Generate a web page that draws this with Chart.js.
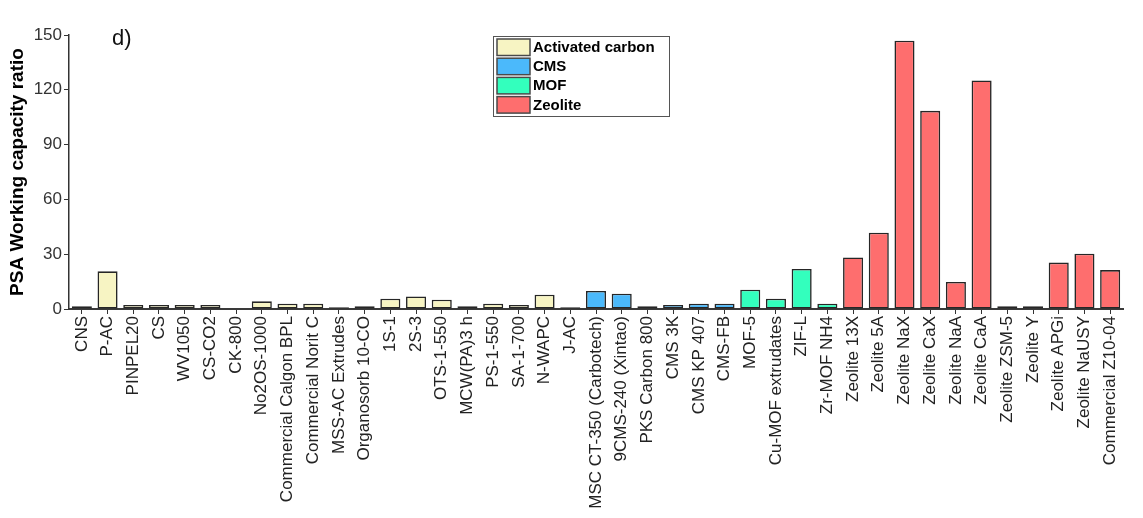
<!DOCTYPE html>
<html>
<head>
<meta charset="utf-8">
<script src="https://cdn.jsdelivr.net/npm/chart.js@4.4.1/dist/chart.umd.min.js"></script>
<style>
  html, body { margin: 0; padding: 0; background: #ffffff; }
  canvas { display: block; }
</style>
</head>
<body>
<canvas id="chart" width="1143" height="518"></canvas>
<script>
// Adsorbent names along the x axis
const categories = [
  'CNS', 'P-AC', 'PINPEL20', 'CS', 'WV1050', 'CS-CO2', 'CK-800', 'No2OS-1000',
  'Commercial Calgon BPL', 'Commercial Norit C', 'MSS-AC Extrudes', 'Organosorb 10-CO',
  '1S-1', '2S-3', 'OTS-1-550', 'MCW(PA)3 h', 'PS-1-550', 'SA-1-700', 'N-WAPC', 'J-AC',
  'MSC CT-350 (Carbotech)', '9CMS-240 (Xintao)', 'PKS Carbon 800', 'CMS 3K', 'CMS KP 407', 'CMS-FB',
  'MOF-5', 'Cu-MOF extrudates', 'ZIF-L', 'Zr-MOF NH4',
  'Zeolite 13X', 'Zeolite 5A', 'Zeolite NaX', 'Zeolite CaX', 'Zeolite NaA', 'Zeolite CaA',
  'Zeolite ZSM-5', 'Zeolite Y', 'Zeolite APGi', 'Zeolite NaUSY', 'Commercial Z10-04'
];

// PSA working capacity ratio per adsorbent
const workingCapacityRatio = [
  1.5, 20.6, 2.2, 2.2, 2.2, 2.2, 0, 4.2,
  2.9, 2.9, 0.9, 1.5,
  5.6, 6.9, 5.1, 1.5, 2.9, 2.2, 7.8, 0.9,
  9.9, 8.4, 1.5, 2.2, 2.9, 2.9,
  10.6, 5.6, 21.9, 2.9,
  28.2, 41.8, 146.9, 108.5, 14.8, 125.1,
  1.5, 1.5, 25.4, 30.3, 21.3
];

// Adsorbent family of each bar
const families = [
  'Activated carbon', 'Activated carbon', 'Activated carbon', 'Activated carbon', 'Activated carbon',
  'Activated carbon', 'Activated carbon', 'Activated carbon', 'Activated carbon', 'Activated carbon',
  'Activated carbon', 'Activated carbon', 'Activated carbon', 'Activated carbon', 'Activated carbon',
  'Activated carbon', 'Activated carbon', 'Activated carbon', 'Activated carbon', 'Activated carbon',
  'CMS', 'CMS', 'CMS', 'CMS', 'CMS', 'CMS',
  'MOF', 'MOF', 'MOF', 'MOF',
  'Zeolite', 'Zeolite', 'Zeolite', 'Zeolite', 'Zeolite', 'Zeolite',
  'Zeolite', 'Zeolite', 'Zeolite', 'Zeolite', 'Zeolite'
];

// Legend entries, in drawing order
const familyNames = ['Activated carbon', 'CMS', 'MOF', 'Zeolite'];

// Value axis ticks
const yTickValues = [0, 30, 60, 90, 120, 150];

const panelLabel = 'd)';
const yAxisTitle = 'PSA Working capacity ratio';

// ---- styling ----
const FONT = "'Liberation Sans', Arial, Helvetica, sans-serif";
const familyColors = {
  'Activated carbon': '#f7f4c3',
  'CMS': '#4bb9fb',
  'MOF': '#33ffbd',
  'Zeolite': '#fe6e6e'
};
const EDGE = '#262626';

const overlayPlugin = {
  id: 'panelOverlay',
  afterDraw(chart) {
    const ctx = chart.ctx;
    ctx.save();

    // panel tag
    ctx.fillStyle = '#111';
    ctx.font = `22px ${FONT}`;
    ctx.textAlign = 'left';
    ctx.textBaseline = 'alphabetic';
    ctx.fillText(panelLabel, 112, 45);

    // legend box
    const bx = 493.5, by = 36.5, bw = 176, bh = 80;
    ctx.fillStyle = '#ffffff';
    ctx.fillRect(bx, by, bw, bh);
    ctx.strokeStyle = '#555';
    ctx.lineWidth = 1;
    ctx.strokeRect(bx, by, bw, bh);

    const rowH = 19.2;
    familyNames.forEach((name, i) => {
      const y = by + 2.5 + i * rowH;
      ctx.fillStyle = familyColors[name];
      ctx.fillRect(497, y, 33, 16.5);
      ctx.strokeStyle = '#4a4a4a';
      ctx.lineWidth = 1.5;
      ctx.strokeRect(497, y, 33, 16.5);
      ctx.fillStyle = '#000';
      ctx.font = `bold 15px ${FONT}`;
      ctx.textBaseline = 'middle';
      ctx.fillText(name, 533, y + 8.8);
    });

    ctx.restore();
  }
};

new Chart(document.getElementById('chart'), {
  type: 'bar',
  data: {
    labels: categories,
    datasets: [{
      label: yAxisTitle,
      data: workingCapacityRatio,
      backgroundColor: families.map(f => familyColors[f]),
      borderColor: EDGE,
      borderWidth: 1.6,
      borderSkipped: false,
      barPercentage: 0.78,
      categoryPercentage: 1.0
    }]
  },
  options: {
    responsive: false,
    animation: false,
    devicePixelRatio: 1,
    layout: { padding: { left: 0, top: 35, right: 20, bottom: 0 } },
    plugins: {
      legend: { display: false },
      tooltip: { enabled: false }
    },
    scales: {
      x: {
        grid: {
          display: true,
          drawOnChartArea: false,
          drawTicks: true,
          tickLength: 5,
          offset: false,
          color: '#333',
          lineWidth: 1
        },
        border: { display: true, color: '#3a3a3a', width: 2 },
        ticks: {
          autoSkip: false,
          maxRotation: 90,
          minRotation: 90,
          padding: 2,
          color: '#222',
          font: { family: FONT, size: 17 }
        },
        afterFit(scale) { scale.height = 209; }
      },
      y: {
        min: 0,
        max: 150,
        grid: {
          display: true,
          drawOnChartArea: false,
          drawTicks: true,
          tickLength: 5,
          color: '#333',
          lineWidth: 1
        },
        border: { display: true, color: '#333', width: 1.5 },
        ticks: {
          stepSize: 30,
          padding: 2,
          color: '#333',
          font: { family: FONT, size: 17 },
          callback: v => (yTickValues.includes(v) ? String(v) : '')
        },
        title: {
          display: true,
          text: yAxisTitle,
          color: '#000',
          padding: { top: 6, bottom: 4 },
          font: { family: FONT, size: 19, weight: 'bold' }
        },
        afterFit(scale) { scale.width = 69; }
      }
    }
  },
  plugins: [overlayPlugin]
});
</script>
</body>
</html>
